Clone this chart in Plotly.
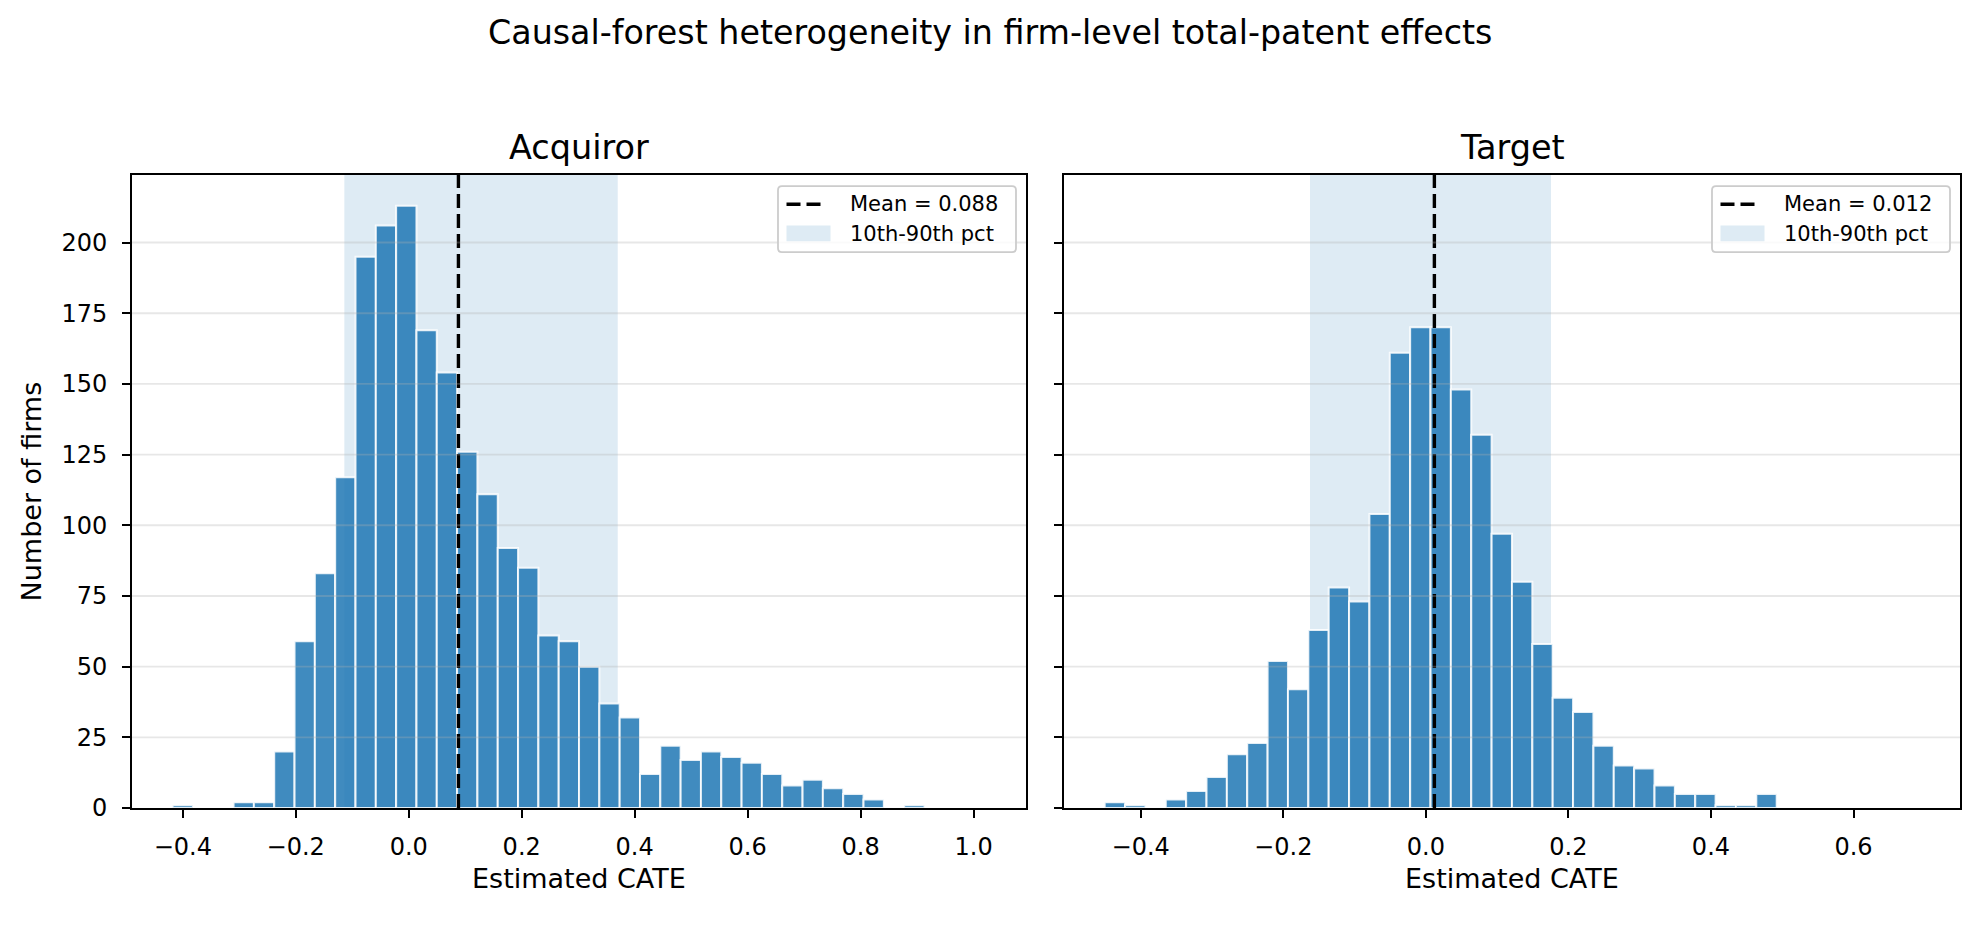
import numpy as np
import plotly.graph_objects as go

# histogram counts per bin (40 equal-width bins per panel)
acq_counts = [1, 0, 0, 2, 2, 20, 59, 83, 117, 195, 206, 213, 169, 154, 126, 111, 92, 85, 61, 59,
              50, 37, 32, 12, 22, 17, 20, 18, 16, 12, 8, 10, 7, 5, 3, 0, 1, 0, 0, 0]
tgt_counts = [2, 1, 0, 3, 6, 11, 19, 23, 52, 42, 63, 78, 73, 104, 161, 170, 170, 148, 132, 97,
              80, 58, 39, 34, 22, 15, 14, 8, 5, 5, 1, 1, 5, 0, 0, 0, 0, 0, 0, 0]

# data span covered by the bins
acq_bins = [-0.418, 1.021]
tgt_bins = [-0.4505, 0.6922]

# summary stats
acq_mean = 0.088
tgt_mean = 0.012
acq_pct = [-0.114, 0.370]   # 10th / 90th percentile
tgt_pct = [-0.1625, 0.1756]

panel_titles = ["Acquiror", "Target"]
y_ticks = [0, 25, 50, 75, 100, 125, 150, 175, 200]

FONT = "DejaVu Sans"
BAR_COLOR = "rgba(31,119,180,0.85)"
SPAN_COLOR = "rgba(31,119,180,0.15)"

# page is 1980x927; the body margin (8px) sits around the figure
OFF = 8
W, H = 1980 - 2 * OFF, 927 - 2 * OFF


def px(x):
    return (x - OFF) / W


def py(y):
    return 1 - (y - OFF) / H


def rounded_box(x0, y0, x1, y1, r=4):
    # rounded rectangle path in paper units, corners given in page pixels
    X0, X1, Y0, Y1 = px(x0), px(x1), py(y0), py(y1)
    rx, ry = r / W, r / H
    return (f"M{X0 + rx},{Y0} L{X1 - rx},{Y0} Q{X1},{Y0} {X1},{Y0 - ry} "
            f"L{X1},{Y1 + ry} Q{X1},{Y1} {X1 - rx},{Y1} L{X0 + rx},{Y1} "
            f"Q{X0},{Y1} {X0},{Y1 + ry} L{X0},{Y0 - ry} Q{X0},{Y0} {X0 + rx},{Y0} Z")


fig = go.Figure()

# (counts, bin span, mean, pct, x axis, y axis, axes left px, axes right px)
panels = [
    (acq_counts, acq_bins, acq_mean, acq_pct, "x", "y", 132, 1026),
    (tgt_counts, tgt_bins, tgt_mean, tgt_pct, "x2", "y2", 1064, 1960),
]

annotations = [
    dict(text="Causal-forest heterogeneity in firm-level total-patent effects",
         x=px(990), y=py(33.3), font=dict(size=33.3)),
    dict(text="Number of firms", x=px(31), y=py(499), textangle=-90, font=dict(size=27)),
]
shapes = []

for i, (counts, span, mean, pct, xa, ya, left, right) in enumerate(panels):
    edges = np.linspace(span[0], span[1], len(counts) + 1)
    centers = (edges[:-1] + edges[1:]) / 2
    width = edges[1] - edges[0]

    # histogram bars
    fig.add_trace(go.Bar(
        x=centers, y=counts, width=width,
        marker=dict(color=BAR_COLOR, line=dict(color="rgba(255,255,255,0.85)", width=2)),
        xaxis=xa, yaxis=ya, showlegend=False, hoverinfo="x+y",
    ))

    # mean line (axvline)
    fig.add_trace(go.Scatter(
        x=[mean, mean], y=[0, 224], mode="lines",
        line=dict(color="black", width=3.4, dash="14px,6px"),
        name=f"Mean = {mean:.3f}", xaxis=xa, yaxis=ya, showlegend=False,
    ))

    # 10th-90th percentile band
    shapes.append(dict(type="rect", x0=pct[0], x1=pct[1], y0=0, y1=1, xref=xa, yref=f"{ya} domain",
                       fillcolor=SPAN_COLOR, line_width=0, layer="below"))

    # light horizontal grid, drawn over the bars like matplotlib does
    for t in y_ticks[1:]:
        shapes.append(dict(type="line", xref=f"{xa} domain", yref=ya, x0=0, x1=1, y0=t, y1=t,
                           layer="above", line=dict(color="rgba(176,176,176,0.3)", width=1.9)))

    mid = (left + right) / 2
    annotations.append(dict(text=panel_titles[i], x=px(mid), y=py(149.8), font=dict(size=33.5)))
    annotations.append(dict(text="Estimated CATE", x=px(mid), y=py(891.7), font=dict(size=27)))

    # legend box in the upper right corner (matplotlib style)
    lx1 = right - 10
    lx0 = lx1 - 238
    shapes.append(dict(type="path", xref="paper", yref="paper", path=rounded_box(lx0, 189, lx1, 256),
                       fillcolor="rgba(255,255,255,0.8)", line=dict(color="#cccccc", width=1.8),
                       layer="above"))
    shapes.append(dict(type="line", xref="paper", yref="paper", x0=px(lx0 + 8.5), x1=px(lx0 + 47),
                       y0=py(207.3), y1=py(207.3), layer="above",
                       line=dict(color="black", width=3.4, dash="14px,6px")))
    shapes.append(dict(type="rect", xref="paper", yref="paper", x0=px(lx0 + 8.5), x1=px(lx0 + 52.5),
                       y0=py(245), y1=py(229), fillcolor=SPAN_COLOR, line_width=0, layer="above"))
    annotations.append(dict(text=f"Mean = {mean:.3f}", x=px(lx0 + 70), y=py(207.3),
                            xanchor="left", font=dict(size=21)))
    annotations.append(dict(text="10th-90th pct", x=px(lx0 + 70), y=py(237.3),
                            xanchor="left", font=dict(size=21)))

for a in annotations:
    a.setdefault("xref", "paper")
    a.setdefault("yref", "paper")
    a.setdefault("xanchor", "center")
    a.setdefault("yanchor", "middle")
    a["showarrow"] = False

axis_common = dict(
    showline=True, linecolor="black", linewidth=2, mirror=True,
    ticks="outside", ticklen=8, tickwidth=2, tickcolor="black",
    tickfont=dict(family=FONT, size=24, color="black"),
    showgrid=False, zeroline=False,
)

y_dom = [py(820.5), py(177.3)]

fig.update_layout(
    width=W, height=H,
    margin=dict(l=0, r=0, t=0, b=0),
    plot_bgcolor="white", paper_bgcolor="white",
    font=dict(family=FONT, color="black"),
    showlegend=False,
    xaxis=dict(domain=[px(132), px(1026)], range=[-0.4899, 1.0928], dtick=0.2, tick0=0,
               tickformat=".1f", anchor="y", ticklabelstandoff=8, **axis_common),
    xaxis2=dict(domain=[px(1064), px(1960)], range=[-0.5076, 0.7494], dtick=0.2, tick0=0,
                tickformat=".1f", anchor="y2", ticklabelstandoff=8, **axis_common),
    yaxis=dict(domain=y_dom, range=[0, 224], tickvals=y_ticks, anchor="x",
               ticklabelstandoff=10, **axis_common),
    yaxis2=dict(domain=y_dom, range=[0, 224], tickvals=y_ticks, anchor="x2",
                matches="y", showticklabels=False, **axis_common),
    shapes=shapes,
    annotations=annotations,
)

fig.write_html("out.html")
